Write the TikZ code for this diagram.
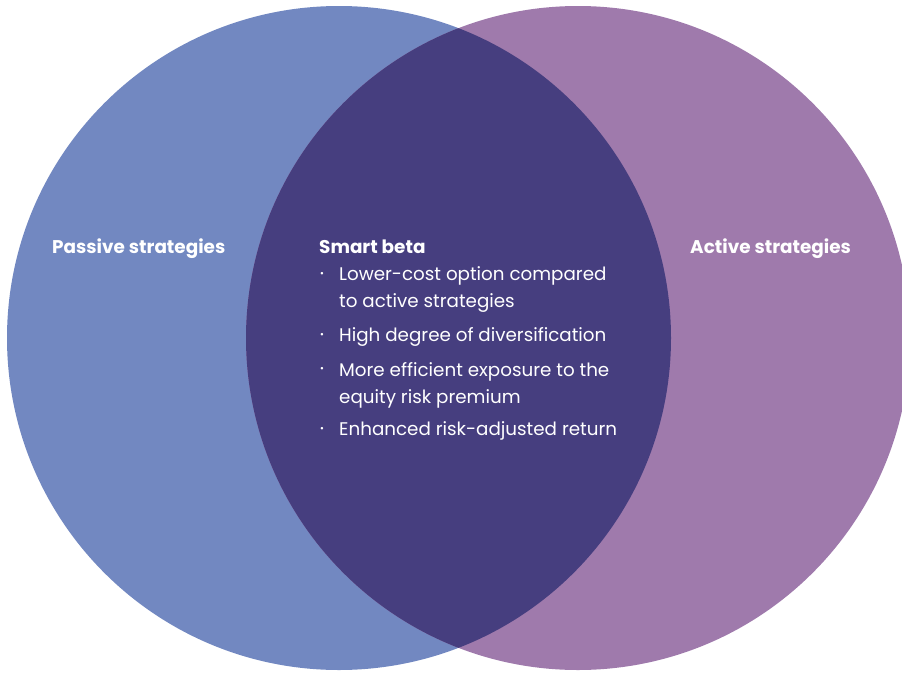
\documentclass[tikz,border=0pt]{standalone}
\usepackage{fontspec}
\setmainfont{Poppins}
\usetikzlibrary{positioning}
\definecolor{passiveblue}{RGB}{114,136,193}
\definecolor{activemauve}{RGB}{159,122,172}
\definecolor{smartindigo}{RGB}{70,62,127}
\tikzset{
  settitle/.style={text=white, anchor=base west, inner sep=0pt,
                   font=\fontsize{18.4}{20}\selectfont\bfseries},
  point/.style={text=white, anchor=base west, inner sep=0pt, align=left,
                font=\fontsize{18.3}{27}\selectfont},
  dot/.style={text=white, anchor=base, inner sep=0pt,
              font=\fontsize{20}{20}\selectfont},
}

\begin{document}
\begin{tikzpicture}[x=1pt, y=-1pt]
  \useasboundingbox (0,0) rectangle (902,672);
  \clip (0,0) rectangle (902,672);

  % ---------- the two sets ----------
  \fill[passiveblue] (339,338) circle (332pt);
  \fill[activemauve] (578,338) circle (332pt);
  % overlap: right disc clipped to the left one
  \begin{scope}
    \clip (339,338) circle (332pt);
    \fill[smartindigo] (578,338) circle (332pt);
  \end{scope}

  % ---------- set titles ----------
  \node[settitle] (passive) at (52,253) {Passive strategies};
  \node[settitle] (active) at (690,253) {Active strategies};
  \node[settitle] (smart) at (319,253) {Smart beta};

  % ---------- smart beta points (base = last line) ----------
  \node[point] (cost) at (339,307) {Lower-cost option compared\\to active strategies};
  \node[point] (divers) at (339,341) {High degree of diversification};
  \node[point] (premium) at (339,403) {More efficient exposure to the\\equity risk premium};
  \node[point] (return) at (339,435) {Enhanced risk-adjusted return};

  \node[dot] (b1) at (322,280) {\textperiodcentered};
  \node[dot] (b2) at (322,341) {\textperiodcentered};
  \node[dot] (b3) at (322,375) {\textperiodcentered};
  \node[dot] (b4) at (322,435) {\textperiodcentered};

\end{tikzpicture}
\end{document}
